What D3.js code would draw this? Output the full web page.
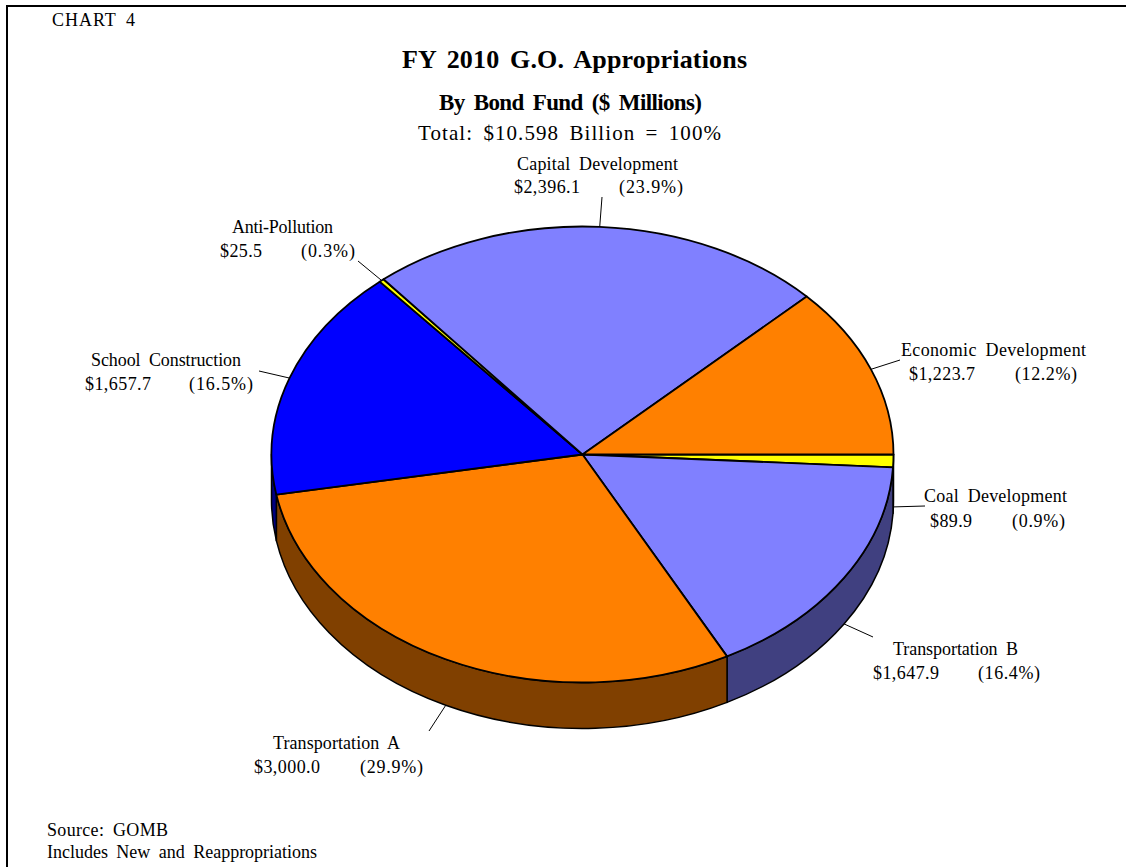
<!DOCTYPE html>
<html>
<head>
<meta charset="utf-8">
<script src="https://cdnjs.cloudflare.com/ajax/libs/d3/7.8.5/d3.min.js"></script>
<style>
    html, body { margin: 0; padding: 0; background: #fff; }
    svg { display: block; }
    text { font-family: "Liberation Serif", serif; fill: #000; }
</style>
</head>
<body>
<script>
// values, $ millions, in drawing order (clockwise from 3 o'clock)
const funds = ["Coal Development", "Transportation B", "Transportation A", "School Construction", "Anti-Pollution", "Capital Development", "Economic Development"];
const amounts = [89.9, 1647.9, 3000.0, 1657.7, 25.5, 2396.1, 1223.7];
const amountLabels = ["$89.9", "$1,647.9", "$3,000.0", "$1,657.7", "$25.5", "$2,396.1", "$1,223.7"];
const shareLabels = ["(0.9%)", "(16.4%)", "(29.9%)", "(16.5%)", "(0.3%)", "(23.9%)", "(12.2%)"];
const topColors = ["#ffff00", "#8080ff", "#ff8000", "#0000ff", "#ffff00", "#8080ff", "#ff8000"];
const sideColors = ["#808000", "#404080", "#804000", "#000080", "#808000", "#404080", "#804000"];

// label placement: name x/baseline/width, amount x/width, share x/width, second baseline, leader outer end
const labelLayout = [
    {nx: 924, ny: 502, nw: 143, ax: 930, aw: 42, px: 1012, pw: 53, vy: 527, ex: 925, ey: 506},
    {nx: 893, ny: 655, nw: 125, ax: 873, aw: 66, px: 978, pw: 62, vy: 679, ex: 873, ey: 637},
    {nx: 273, ny: 749, nw: 127, ax: 254, aw: 66, px: 360, pw: 63, vy: 773, ex: 429, ey: 731},
    {nx: 91, ny: 366, nw: 150, ax: 85, aw: 66, px: 189, pw: 64, vy: 390, ex: 259, ey: 371},
    {nx: 232, ny: 233, nw: 101, ax: 220, aw: 42, px: 301, pw: 54, vy: 257, ex: 358, ey: 261},
    {nx: 517, ny: 170, nw: 161, ax: 514, aw: 66, px: 619, pw: 64, vy: 193, ex: 602, ey: 197},
    {nx: 901, ny: 356, nw: 185, ax: 909, aw: 66, px: 1015, pw: 62, vy: 380, ex: 900, ey: 360}
];

const width = 1126, height = 867;
const cx = 582.5, cy = 454.5, rx = 311, ry = 228, depth = 46;

const svg = d3.select("body").append("svg")
    .attr("width", width).attr("height", height);

// frame, only top and left are in the picture
svg.append("path")
    .attr("d", `M7,${height}V6H${width}`)
    .attr("fill", "none").attr("stroke", "#000").attr("stroke-width", 2);

const slices = d3.pie().sort(null)
    .startAngle(Math.PI / 2).endAngle(Math.PI / 2 + 2 * Math.PI)(amounts);

const px = a => cx + rx * Math.sin(a);
const py = a => cy - ry * Math.cos(a);

// front wall of a slice: only the part that lies in the lower half of the ellipse
function wallPath(d) {
    const a0 = Math.max(d.startAngle, Math.PI / 2);
    const a1 = Math.min(d.endAngle, 3 * Math.PI / 2);
    if (a1 <= a0) return null;
    return `M${px(a0)},${py(a0)}` +
        `A${rx},${ry} 0 0 1 ${px(a1)},${py(a1)}` +
        `V${py(a1) + depth}` +
        `A${rx},${ry} 0 0 0 ${px(a0)},${py(a0) + depth}Z`;
}

svg.append("g").selectAll("path")
    .data(slices.filter(d => wallPath(d))).enter()
    .append("path")
    .attr("d", wallPath)
    .attr("fill", d => sideColors[d.index])
    .attr("stroke", "#000").attr("stroke-width", 1.5).attr("stroke-linejoin", "round");

// top face: circle arcs squashed into the ellipse
const arc = d3.arc().innerRadius(0).outerRadius(rx);

svg.append("g")
    .attr("transform", `translate(${cx},${cy}) scale(1,${ry / rx})`)
    .selectAll("path")
    .data(slices).enter()
    .append("path")
    .attr("d", arc)
    .attr("fill", d => topColors[d.index])
    .attr("stroke", "#000").attr("stroke-width", 1.8)
    .attr("stroke-linejoin", "round")
    .attr("vector-effect", "non-scaling-stroke");

// leader lines start on the rim at the slice's middle angle
svg.append("g").selectAll("line")
    .data(slices).enter()
    .append("line")
    .attr("x1", d => px((d.startAngle + d.endAngle) / 2))
    .attr("y1", d => {
        const m = (d.startAngle + d.endAngle) / 2;
        return py(m) + (Math.cos(m) < 0 ? depth : 0);
    })
    .attr("x2", d => labelLayout[d.index].ex)
    .attr("y2", d => labelLayout[d.index].ey)
    .attr("stroke", "#000").attr("stroke-width", 1);

// text stretched to the widths in the reference, its spacing is wider than the plain font
function addText(parent, x, y, size, w, str) {
    return parent.append("text")
        .attr("x", x).attr("y", y).attr("font-size", size)
        .attr("word-spacing", 4)
        .attr("textLength", w).attr("lengthAdjust", "spacing")
        .text(str);
}

const labels = svg.append("g");
funds.forEach((name, i) => {
    const l = labelLayout[i];
    addText(labels, l.nx, l.ny, 18, l.nw, name);
    addText(labels, l.ax, l.vy, 18, l.aw, amountLabels[i]);
    addText(labels, l.px, l.vy, 18, l.pw, shareLabels[i]);
});

addText(svg, 52, 26, 18, 83, "CHART 4");
addText(svg, 402, 68, 26, 345, "FY 2010 G.O. Appropriations").attr("font-weight", "bold");
addText(svg, 439, 110, 23, 263, "By Bond Fund ($ Millions)").attr("font-weight", "bold");
addText(svg, 418, 140, 21, 303, "Total: $10.598 Billion = 100%");
addText(svg, 47, 836, 18, 121, "Source: GOMB");
addText(svg, 47, 858, 18, 270, "Includes New and Reappropriations");
</script>
</body>
</html>
